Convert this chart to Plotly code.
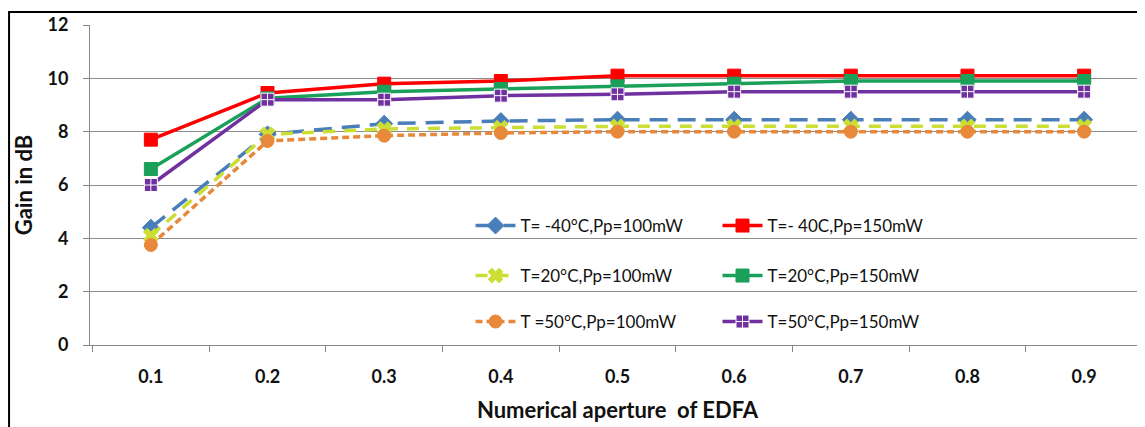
import plotly.graph_objects as go

categories = ["0.1", "0.2", "0.3", "0.4", "0.5", "0.6", "0.7", "0.8", "0.9"]
t_m40_100 = [4.4, 7.9, 8.3, 8.4, 8.45, 8.45, 8.45, 8.45, 8.45]
t_m40_150 = [7.7, 9.45, 9.8, 9.9, 10.1, 10.1, 10.1, 10.1, 10.1]
t_20_100 = [4.1, 7.9, 8.1, 8.15, 8.2, 8.2, 8.2, 8.2, 8.2]
t_20_150 = [6.6, 9.25, 9.5, 9.6, 9.7, 9.8, 9.9, 9.9, 9.9]
t_50_100 = [3.75, 7.65, 7.85, 7.95, 8.0, 8.0, 8.0, 8.0, 8.0]
t_50_150 = [6.0, 9.2, 9.2, 9.35, 9.4, 9.5, 9.5, 9.5, 9.5]
y_ticks = [0, 2, 4, 6, 8, 10, 12]

FONT = "Lato"
series = [
    ("T= -40°C,Pp=100mW", t_m40_100, "#4A7EBB", "18px,10px", "diamond", "legend"),
    ("T=- 40C,Pp=150mW", t_m40_150, "#FF0000", "solid", "square", "legend"),
    ("T=20°C,Pp=100mW", t_20_100, "#CCDD33", "12px,9px", "x", "legend2"),
    ("T=20°C,Pp=150mW", t_20_150, "#1BA05A", "solid", "square", "legend2"),
    ("T =50°C,Pp=100mW", t_50_100, "#E8883A", "7px,4px", "circle", "legend3"),
    ("T=50°C,Pp=150mW", t_50_150, "#7030A0", "solid", "square-cross", "legend3"),
]

fig = go.Figure()
for name, vals, col, dash, sym, lg in series:
    fig.add_trace(go.Scatter(
        x=categories, y=vals, name=name, mode="lines+markers",
        line=dict(color=col, width=3.5, dash=dash),
        marker=dict(symbol=sym, size=13, color=col,
                    line=dict(color="white" if sym == "square-cross" else col, width=1)),
        legend=lg,
    ))

# page is offset by 8px body margin; plot area spans page x 90..1145, y 25..345
legend_common = dict(orientation="h", entrywidth=192, entrywidthmode="pixels",
                     bgcolor="rgba(0,0,0,0)", font=dict(family=FONT, size=17, color="#111"),
                     xanchor="left", yanchor="middle", itemwidth=40, tracegroupgap=0)
lx = (522 - 51.5 - 90) / 1055
fig.update_layout(
    width=1137, height=419,
    margin=dict(l=82, r=0, t=17, b=82, autoexpand=False),
    paper_bgcolor="white", plot_bgcolor="white",
    font=dict(family=FONT, color="#111"),
    showlegend=True,
    legend=dict(x=lx, y=(345 - 226) / 320, **legend_common),
    legend2=dict(x=lx, y=(345 - 276) / 320, **legend_common),
    legend3=dict(x=lx, y=(345 - 322) / 320, **legend_common),
    xaxis=dict(type="category", showgrid=False, showline=True, linecolor="#888",
               linewidth=1, ticks="outside", tickson="boundaries", ticklen=6,
               tickcolor="#888", automargin=False, ticklabelstandoff=15,
               tickfont=dict(family=FONT, size=18, color="#111", weight="bold"),
               title=dict(text="Numerical aperture  of EDFA",
                          font=dict(family=FONT, size=22, color="#111", weight="bold"),
                          standoff=17)),
    yaxis=dict(range=[0, 12], tickvals=y_ticks, showgrid=True, gridcolor="#8c8c8c",
               gridwidth=1, showline=True, linecolor="#888", linewidth=1,
               ticks="outside", ticklen=6, tickcolor="#888", zeroline=False,
               ticklabelstandoff=11, automargin=False,
               tickfont=dict(family=FONT, size=18, color="#111", weight="bold"),
               title=dict(text="Gain in dB",
                          font=dict(family=FONT, size=22, color="#111", weight="bold"),
                          standoff=8)),
    shapes=[dict(type="rect", xref="paper", yref="paper",
                 x0=(8 - 90) / 1055 + 0.001, x1=1.05, y0=-0.5, y1=(345 - 12) / 320,
                 line=dict(color="black", width=2), fillcolor="rgba(0,0,0,0)",
                 layer="below")],
)
fig.write_html("out.html")
